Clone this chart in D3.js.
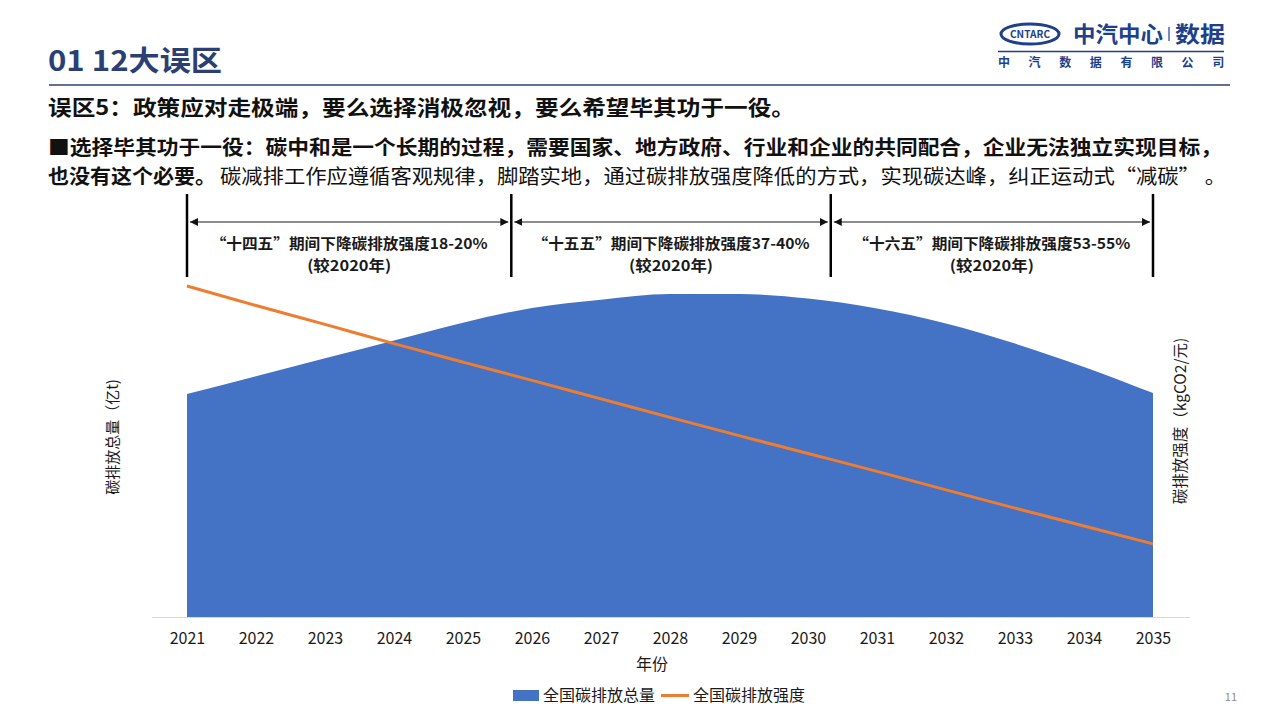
<!DOCTYPE html>
<html><head><meta charset="utf-8">
<script src="https://cdn.jsdelivr.net/npm/d3@7"></script>
<style>
html,body{margin:0;padding:0;background:#fff;}
svg{display:block;font-family:"Noto Sans CJK SC","Noto Sans",sans-serif;}
</style></head>
<body><svg id="c" width="1280" height="720"></svg>
<script>
// ---- data ----
const years = [2021,2022,2023,2024,2025,2026,2027,2028,2029,2030,2031,2032,2033,2034,2035];
const totalEmission = [100,108,116,124,132,138.6,142.3,144.8,144.8,142.8,138.3,131.6,122.6,112.1,100.4];
const emissionIntensity = [1.000,0.941,0.884,0.826,0.770,0.715,0.659,0.603,0.548,0.494,0.440,0.384,0.329,0.275,0.221];
const periodBounds = [2021, 2025.7, 2030.33, 2035];
const periodLabels = [
  ["“十四五”期间下降碳排放强度18-20%","(较2020年)"],
  ["“十五五”期间下降碳排放强度37-40%","(较2020年)"],
  ["“十六五”期间下降碳排放强度53-55%","(较2020年)"]
];
const seriesNames = ["全国碳排放总量","全国碳排放强度"];

const svg = d3.select("#c");
const navy = "#2B3F73";

// ---- header ----
svg.append("text").attr("x",48).attr("y",71).attr("font-size",28).attr("font-weight","bold")
  .attr("fill",navy).attr("textLength",174).attr("lengthAdjust","spacingAndGlyphs").text("01 12大误区");
svg.append("line").attr("x1",49).attr("x2",1230).attr("y1",85).attr("y2",85).attr("stroke",navy).attr("stroke-width",1.5);

// logo
const logoC = "#1E3F8A";
svg.append("ellipse").attr("cx",1030).attr("cy",34).attr("rx",29).attr("ry",10).attr("fill","none").attr("stroke",logoC).attr("stroke-width",3);
svg.append("text").attr("x",1030).attr("y",38).attr("text-anchor","middle").attr("font-size",10).attr("font-weight","bold")
  .attr("fill",logoC).attr("textLength",40).attr("lengthAdjust","spacingAndGlyphs").text("CNTARC");
svg.append("text").attr("x",1073).attr("y",42).attr("font-size",22).attr("font-weight","bold").attr("fill",logoC)
  .attr("textLength",90).attr("lengthAdjust","spacingAndGlyphs").text("中汽中心");
svg.append("line").attr("x1",1169).attr("x2",1169).attr("y1",27).attr("y2",41).attr("stroke",logoC).attr("stroke-width",1.2);
svg.append("text").attr("x",1175).attr("y",42).attr("font-size",22).attr("font-weight","bold").attr("fill",logoC)
  .attr("textLength",50).attr("lengthAdjust","spacingAndGlyphs").text("数据");
svg.append("line").attr("x1",998).attr("x2",1224).attr("y1",51.5).attr("y2",51.5).attr("stroke",logoC).attr("stroke-width",1.5);
"中汽数据有限公司".split("").forEach((ch,i)=>{
  svg.append("text").attr("x",1004+i*30.6).attr("y",67).attr("text-anchor","middle").attr("font-size",12)
    .attr("font-weight","bold").attr("fill",logoC).text(ch);
});

// ---- text paragraphs ----
svg.append("text").attr("x",48).attr("y",115).attr("font-size",21).attr("font-weight","bold").attr("fill","#111")
  .attr("textLength",747).attr("lengthAdjust","spacingAndGlyphs")
  .text("误区5：政策应对走极端，要么选择消极忽视，要么希望毕其功于一役。");
svg.append("text").attr("x",48).attr("y",155).attr("font-size",20).attr("font-weight","bold").attr("fill","#111")
  .attr("textLength",1174).attr("lengthAdjust","spacingAndGlyphs")
  .text("■选择毕其功于一役：碳中和是一个长期的过程，需要国家、地方政府、行业和企业的共同配合，企业无法独立实现目标，");
svg.append("text").attr("x",48).attr("y",184).attr("font-size",20).attr("font-weight","bold").attr("fill","#111")
  .attr("textLength",168).attr("lengthAdjust","spacingAndGlyphs").text("也没有这个必要。");
svg.append("text").attr("x",220).attr("y",184).attr("font-size",20).attr("fill","#111")
  .attr("textLength",1006).attr("lengthAdjust","spacingAndGlyphs")
  .text("碳减排工作应遵循客观规律，脚踏实地，通过碳排放强度降低的方式，实现碳达峰，纠正运动式“减碳” 。");

// ---- chart ----
const x = d3.scaleLinear().domain([2021,2035]).range([187,1153]);
const y = d3.scaleLinear().domain([0,150]).range([617,282.5]);
const y2 = d3.scaleLinear().domain([0,1.2]).range([617,219.8]);

svg.append("line").attr("x1",152).attr("x2",1190).attr("y1",617.5).attr("y2",617.5).attr("stroke","#d9d9d9").attr("stroke-width",1);

const area = d3.area().x((d,i)=>x(years[i])).y0(y(0)).y1(d=>y(d)).curve(d3.curveMonotoneX);
svg.append("path").datum(totalEmission).attr("d",area).attr("fill","#4472C4");

const line = d3.line().x((d,i)=>x(years[i])).y(d=>y2(d)).curve(d3.curveMonotoneX);
svg.append("path").datum(emissionIntensity).attr("d",line).attr("fill","none").attr("stroke","#ED7D31").attr("stroke-width",3);

// x axis labels
const xAxis = d3.axisBottom(x).tickValues(years).tickFormat(d3.format("d")).tickSize(0).tickPadding(0);
const gx = svg.append("g").attr("transform","translate(0,633)").call(xAxis);
gx.select(".domain").remove();
gx.selectAll("text").attr("font-size",16).attr("fill","#1a1a1a").attr("font-family","'Noto Sans CJK SC','Noto Sans',sans-serif");

svg.append("text").attr("x",652).attr("y",670).attr("text-anchor","middle").attr("font-size",16).attr("fill","#1a1a1a").text("年份");
svg.append("text").attr("transform","translate(118,437) rotate(-90)").attr("text-anchor","middle").attr("font-size",15).attr("fill","#1a1a1a").text("碳排放总量（亿t)");
svg.append("text").attr("transform","translate(1186,421) rotate(-90)").attr("text-anchor","middle").attr("font-size",15.5).attr("fill","#1a1a1a").text("碳排放强度（kgCO2/元)");

// ---- period brackets ----
const defs = svg.append("defs");
defs.append("marker").attr("id","arr").attr("viewBox","0 0 10 10").attr("refX",10).attr("refY",5)
  .attr("markerWidth",4).attr("markerHeight",4).attr("orient","auto-start-reverse")
  .append("path").attr("d","M0,0L10,5L0,10z").attr("fill","#111");
periodBounds.forEach(b=>{
  svg.append("line").attr("x1",x(b)).attr("x2",x(b)).attr("y1",194).attr("y2",277).attr("stroke","#000").attr("stroke-width",2.5);
});
periodLabels.forEach((lab,i)=>{
  const a = x(periodBounds[i]), b = x(periodBounds[i+1]);
  svg.append("line").attr("x1",a+3).attr("x2",b-3).attr("y1",222).attr("y2",222).attr("stroke","#8c8c8c").attr("stroke-width",2)
    .attr("marker-start","url(#arr)").attr("marker-end","url(#arr)");
  const cx = (a+b)/2;
  svg.append("text").attr("x",cx).attr("y",248.5).attr("text-anchor","middle").attr("font-size",15).attr("font-weight","bold").attr("fill","#1a1a1a")
    .attr("textLength",277).attr("lengthAdjust","spacingAndGlyphs").text(lab[0]);
  svg.append("text").attr("x",cx).attr("y",270.5).attr("text-anchor","middle").attr("font-size",15).attr("font-weight","bold").attr("fill","#1a1a1a")
    .attr("textLength",84).attr("lengthAdjust","spacingAndGlyphs").text(lab[1]);
});

// ---- legend ----
svg.append("rect").attr("x",513).attr("y",690).attr("width",26).attr("height",11).attr("fill","#4472C4");
svg.append("text").attr("x",543).attr("y",701).attr("font-size",16).attr("fill","#1a1a1a").text(seriesNames[0]);
svg.append("line").attr("x1",661).attr("x2",689).attr("y1",695.5).attr("y2",695.5).attr("stroke","#ED7D31").attr("stroke-width",3);
svg.append("text").attr("x",693).attr("y",701).attr("font-size",16).attr("fill","#1a1a1a").text(seriesNames[1]);

svg.append("text").attr("x",1237).attr("y",701).attr("text-anchor","end").attr("font-size",11).attr("fill","#8c8c8c").text("11");
</script></body></html>
